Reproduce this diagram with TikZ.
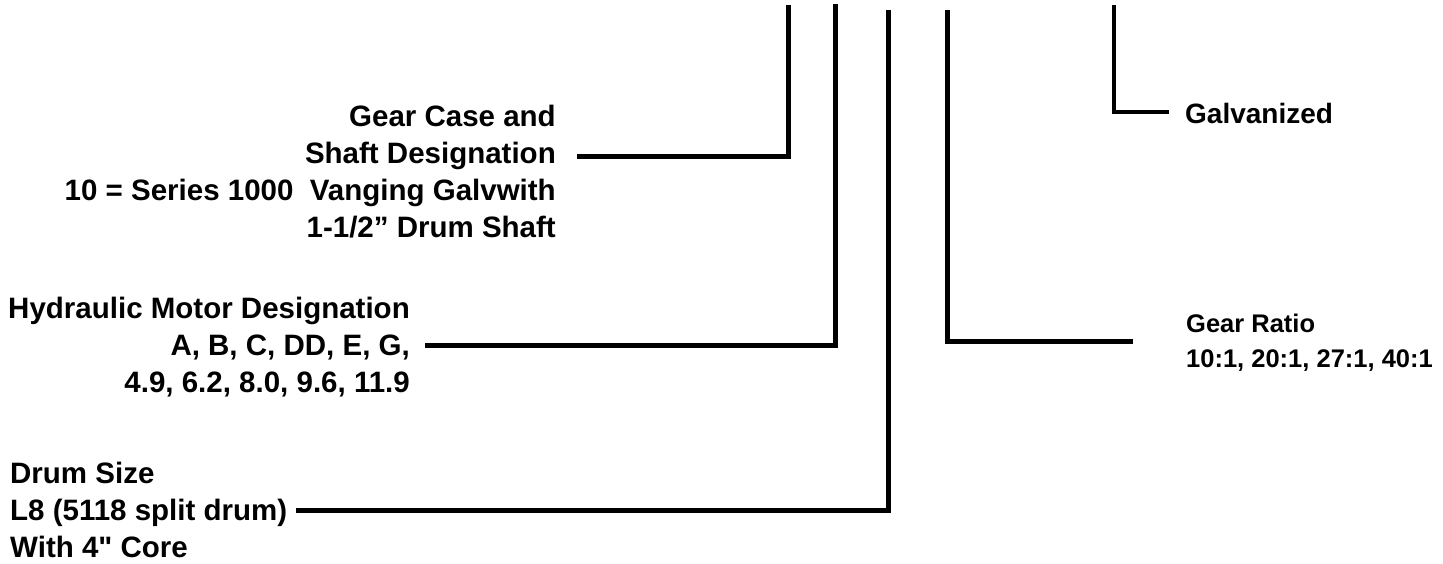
\documentclass[tikz,border=0pt]{standalone}
\usepackage{fontspec}
\setmainfont{Liberation Sans}
\newfontfamily\plainbold{Liberation Sans Bold}
\begin{document}
\begin{tikzpicture}[x=1pt,y=-1pt,
  lead/.style={line width=5pt,line join=miter,line cap=rect},
  thinlead/.style={line width=4pt,line join=miter,line cap=rect},
  leftlbl/.style={inner sep=0pt,font=\plainbold\fontsize{29.5}{37}\selectfont},
  rightlbl/.style={inner sep=0pt,font=\plainbold\fontsize{25.5}{35}\selectfont}]
\useasboundingbox (0,0) rectangle (1443,563);
% labels
\node[leftlbl,align=right,anchor=east] (gc) at (556,172) {Gear Case and\\Shaft Designation\\10 = Series 1000\ \ Vanging Galvwith\\1-1/2” Drum Shaft};
\node[leftlbl,align=right,anchor=east] (hm) at (410,347) {Hydraulic Motor Designation\\A, B, C, DD, E, G,\\4.9, 6.2, 8.0, 9.6, 11.9};
\node[leftlbl,align=left,anchor=west] (ds) at (10,510) {Drum Size\\L8 (5118 split drum)\\With 4" Core};
\node[rightlbl,align=left,anchor=west] (gr) at (1186,343) {Gear Ratio\\10:1, 20:1, 27:1, 40:1};
\node[rightlbl,anchor=west,font=\plainbold\fontsize{28}{35}\selectfont] (gv) at (1185,113) {Galvanized};
% connector ends
\coordinate (t1) at (788,7);   \coordinate (e1) at (579,156);
\coordinate (t2) at (835,6);   \coordinate (e2) at (427,345);
\coordinate (t3) at (888,12);  \coordinate (e3) at (298,510);
\coordinate (t4) at (947,12);  \coordinate (e4) at (1130,341);
\coordinate (t5) at (1114,7);  \coordinate (e5) at (1167,112);
\draw[lead] (t1) |- (e1);
\draw[lead] (t2) |- (e2);
\draw[lead] (t3) |- (e3);
\draw[lead] (t4) |- (e4);
\draw[thinlead] (t5) |- (e5);
\end{tikzpicture}
\end{document}
